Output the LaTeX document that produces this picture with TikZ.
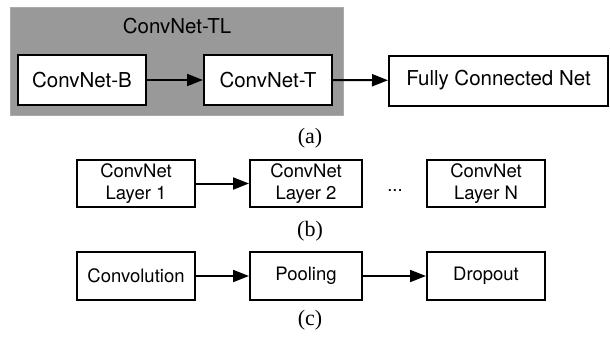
\documentclass[tikz,border=0pt]{standalone}
\usepackage{fontspec}
\setmainfont{TeX Gyre Heros}
\newfontfamily\capfont{Liberation Serif}
\usetikzlibrary{arrows.meta}
\definecolor{grayfill}{RGB}{153,153,153}
\definecolor{grayedge}{RGB}{170,170,170}
\begin{document}
\begin{tikzpicture}[x=1pt,y=-1pt,
  boxa/.style={draw=black,fill=white,line width=2pt,inner sep=0pt,minimum height=50pt,font=\fontsize{20.5}{24}\selectfont,align=center},
  boxb/.style={draw=black,fill=white,line width=2pt,inner sep=0pt,minimum height=47pt,font=\fontsize{18.5}{21.5}\selectfont,align=center},
  arr/.style={-{Triangle[length=16pt,width=12pt]},line width=2pt},
  sublabel/.style={font=\capfont\fontsize{22}{24}\selectfont,inner sep=0pt}]
\useasboundingbox (0,0) rectangle (610,341);
% (a)
\path[fill=grayfill,draw=grayedge,line width=0.8pt] (10,7) rectangle (343,115);
\node[inner sep=0pt,font=\fontsize{20.5}{24}\selectfont] (tl) at (177,26) {ConvNet-TL};
\node[boxa,minimum width=128pt] (b) at (82,80) {ConvNet-B};
\node[boxa,minimum width=128pt] (t) at (268,80) {ConvNet-T};
\node[boxa,minimum width=219pt] (f) at (498.5,80.5) {Fully Connected Net};
\draw[arr] (b) -- (t);
\draw[arr] (t) -- (f);
\node[sublabel] (la) at (310,138) {(a)};
% (b)
\node[boxb,minimum width=118pt] (l1) at (136,183.5) {ConvNet\\Layer 1};
\node[boxb,minimum width=112pt] (l2) at (306,183.5) {ConvNet\\Layer 2};
\node[boxb,minimum width=118pt] (ln) at (486,183.5) {ConvNet\\Layer N};
\node[inner sep=0pt,font=\fontsize{18.5}{21.5}\selectfont] (dots) at (395,191) {...};
\draw[arr] (l1) -- (l2);
\node[sublabel] (lb) at (310,231) {(b)};
% (c)
\node[boxb,minimum width=118pt,minimum height=48pt] (c1) at (136,276) {Convolution};
\node[boxb,minimum width=112pt,minimum height=48pt] (c2) at (306,276) {Pooling};
\node[boxb,minimum width=118pt,minimum height=48pt] (c3) at (486,276) {Dropout};
\draw[arr] (c1) -- (c2);
\draw[arr] (c2) -- (c3);
\node[sublabel] (lc) at (310,320) {(c)};
\end{tikzpicture}
\end{document}
